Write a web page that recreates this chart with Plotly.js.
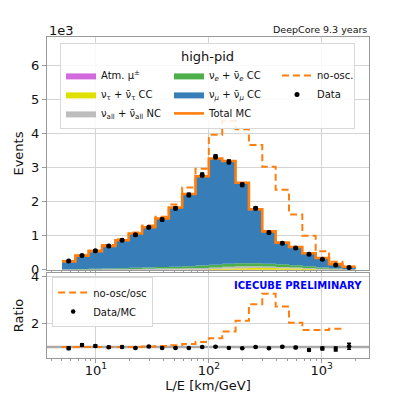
<!DOCTYPE html>
<html><head><meta charset="utf-8">
<script src="https://cdn.plot.ly/plotly-3.0.1.min.js"></script>
<style>html,body{margin:0;padding:0;background:#fff;} #chart{width:395px;height:399px;}</style>
</head><body><div id="chart"></div>
<script>
// L/E bin edges [km/GeV]
const binEdges = [5.00,6.57,8.62,11.32,14.87,19.52,25.63,33.65,44.19,58.02,76.18,100.0,131.35,172.46,226.45,297.35,390.43,512.65,673.14,883.85,1160.5,1523.9,2000];
// event counts, units of 1e3 events
const atmMu  = [0.003,0.003,0.003,0.003,0.003,0.003,0.003,0.003,0.003,0.003,0.003,0.003,0.003,0.003,0.003,0.003,0.003,0.003,0.003,0.003,0.003,0.003];
const nuTauCC = [0.001,0.001,0.001,0.002,0.002,0.003,0.003,0.004,0.005,0.007,0.010,0.020,0.035,0.045,0.050,0.050,0.045,0.035,0.020,0.010,0.005,0.002];
const nuAllNC = [0.005,0.008,0.010,0.012,0.015,0.020,0.025,0.030,0.035,0.040,0.045,0.050,0.055,0.055,0.050,0.045,0.040,0.035,0.030,0.020,0.010,0.005];
const nuECC   = [0.010,0.015,0.020,0.025,0.030,0.035,0.040,0.045,0.050,0.060,0.070,0.080,0.090,0.090,0.090,0.085,0.075,0.065,0.050,0.035,0.020,0.010];
const nuMuCC  = [0.231,0.393,0.516,0.658,0.820,1.009,1.179,1.428,1.737,2.120,2.622,3.117,3.017,2.367,1.587,0.947,0.637,0.532,0.387,0.282,0.132,0.070];
const totalMC = [0.25,0.42,0.55,0.70,0.87,1.07,1.25,1.51,1.83,2.23,2.75,3.27,3.20,2.56,1.78,1.13,0.80,0.67,0.49,0.35,0.17,0.09];
const noOsc   = [0.26,0.43,0.56,0.73,0.90,1.10,1.30,1.56,1.92,2.42,2.97,3.97,4.38,4.13,3.67,3.03,2.35,1.63,1.00,0.55,0.24,0.09];
const dataEv  = [0.26,0.42,0.56,0.70,0.87,1.03,1.25,1.48,1.81,2.20,2.79,3.32,3.17,2.50,1.81,1.10,0.78,0.64,0.46,0.31,0.14,0.07];
const dataErr = [0.016,0.020,0.024,0.026,0.030,0.032,0.035,0.038,0.043,0.047,0.053,0.058,0.056,0.050,0.043,0.033,0.028,0.025,0.021,0.018,0.012,0.008];
// ratio panel
const ratioNoOsc = [1.00,1.00,1.00,1.00,1.00,1.00,1.02,1.04,1.07,1.13,1.21,1.37,1.66,2.12,2.83,3.28,2.73,2.04,1.73,1.73,1.78];
const ratioData  = [0.95,1.085,1.04,0.99,1.00,0.96,1.02,0.96,0.96,0.96,1.00,1.01,0.96,0.95,1.00,0.95,1.01,0.98,0.875,0.94,0.91,1.03];
const ratioErr   = [0.06,0.05,0.04,0.04,0.035,0.03,0.03,0.026,0.024,0.021,0.019,0.017,0.018,0.02,0.024,0.03,0.036,0.04,0.046,0.058,0.085,0.13];
const xTickVals = [10,100,1000];
const xTickText = ['10<sup>1</sup>','10<sup>2</sup>','10<sup>3</sup>'];

const FONT = 'DejaVu Sans, sans-serif';
const stepY = v => v.concat([v[v.length-1]]);
const centers = binEdges.slice(0,-1).map((e,i)=>Math.sqrt(e*binEdges[i+1]));

function stackTrace(name, vals, color, rank){
  return {type:'scatter', mode:'lines', x:binEdges, y:stepY(vals), stackgroup:'mc',
    line:{shape:'hv', width:0, color:color}, fillcolor:color, name:name, legendrank:rank,
    xaxis:'x', yaxis:'y', hoverinfo:'skip'};
}
const traces = [
  stackTrace('Atm. μ<sup>±</sup>', atmMu, '#d26ade', 1),
  stackTrace('ν<sub>τ</sub> + ν̄<sub>τ</sub> CC', nuTauCC, '#e0e000', 4),
  stackTrace('ν<sub>all</sub> + ν̄<sub>all</sub> NC', nuAllNC, '#bdbdbd', 7),
  stackTrace('ν<sub><i>e</i></sub> + ν̄<sub><i>e</i></sub> CC', nuECC, '#4daf4a', 2),
  stackTrace('ν<sub><i>μ</i></sub> + ν̄<sub><i>μ</i></sub> CC', nuMuCC, '#377eb8', 5),
  {type:'scatter', mode:'lines', x:binEdges, y:stepY(totalMC), name:'Total MC', legendrank:8,
    line:{shape:'hv', width:2.6, color:'#ff7f0e'}, xaxis:'x', yaxis:'y'},
  {type:'scatter', mode:'lines', x:binEdges, y:stepY(noOsc), name:'no-osc.', legendrank:3, legendwidth:32,
    line:{shape:'hv', width:2, color:'#ff7f0e', dash:'7px,4px'}, xaxis:'x', yaxis:'y'},
  {type:'scatter', mode:'markers', x:centers, y:dataEv, name:'Data', legendrank:6, legendwidth:32,
    marker:{color:'#000', size:5},
    error_y:{type:'data', array:dataErr, visible:true, color:'#000', thickness:1.5, width:2},
    xaxis:'x', yaxis:'y'},
  {type:'scatter', mode:'lines', x:binEdges.slice(0,ratioNoOsc.length+1), y:stepY(ratioNoOsc), name:'no-osc/osc',
    legend:'legend2', line:{shape:'hv', width:2, color:'#ff7f0e', dash:'7px,4px'}, xaxis:'x2', yaxis:'y2'},
  {type:'scatter', mode:'markers', x:centers, y:ratioData, name:'Data/MC', legend:'legend2',
    marker:{color:'#000', size:4.5},
    error_y:{type:'data', array:ratioErr, visible:true, color:'#000', thickness:1.5, width:2},
    xaxis:'x2', yaxis:'y2'}
];

const axCommon = {showline:true, mirror:true, linecolor:'#9a9a9a', linewidth:1.2,
  gridcolor:'#d4d4d4', gridwidth:1, zeroline:false, ticks:'outside', ticklen:4, tickcolor:'#9a9a9a',
  tickfont:{family:FONT, size:13, color:'#111'}, automargin:false, ticklabeloverflow:'allow'};
const xRange = [0.5664, 3.4186];

const layout = {
  width:395, height:399, margin:{l:47, r:26, t:37, b:41},
  paper_bgcolor:'#fff', plot_bgcolor:'#fff',
  font:{family:FONT, size:10, color:'#111'},
  showlegend:true,
  xaxis: Object.assign({}, axCommon, {type:'log', range:xRange, anchor:'y', domain:[0,1],
    tickvals:xTickVals, showticklabels:false, matches:'x2',
    minor:{ticks:'outside', ticklen:2, tickcolor:'#9a9a9a', dtick:'D1', showgrid:false}}),
  yaxis: Object.assign({}, axCommon, {range:[-0.005, 6.84], domain:[0.274,1], anchor:'x', dtick:1, tick0:0,
    title:{text:'Events', font:{family:FONT, size:13, color:'#111'}, standoff:4}}),
  xaxis2: Object.assign({}, axCommon, {type:'log', range:xRange, anchor:'y2', domain:[0,1],
    tickvals:xTickVals, ticktext:xTickText, ticklabelstandoff:-4,
    minor:{ticks:'outside', ticklen:2, tickcolor:'#9a9a9a', dtick:'D1', showgrid:false},
    title:{text:'L/E [km/GeV]', font:{family:FONT, size:13, color:'#111'}, standoff:0}}),
  yaxis2: Object.assign({}, axCommon, {range:[0.528, 4.171], domain:[0,0.265], anchor:'x2',
    tickvals:[2,4],
    title:{text:'Ratio', font:{family:FONT, size:13, color:'#111'}, standoff:4}}),
  legend:{x:0.0404, y:0.9813, xanchor:'left', yanchor:'top', orientation:'h', traceorder:'normal',
    entrywidth:63, entrywidthmode:'pixels',
    bgcolor:'rgba(255,255,255,0.85)', bordercolor:'#d8d8d8', borderwidth:1,
    font:{family:FONT, size:10, color:'#111'},
    title:{text:'high-pid', side:'top center', font:{family:FONT, size:13, color:'#111'}}},
  legend2:{x:0.016, y:0.252, xanchor:'left', yanchor:'top', orientation:'v', traceorder:'normal',
    bgcolor:'rgba(255,255,255,0.85)', bordercolor:'#d8d8d8', borderwidth:1,
    font:{family:FONT, size:10, color:'#111'}},
  shapes:[{type:'line', xref:'x2 domain', x0:0, x1:1, yref:'y2', y0:1, y1:1,
    line:{color:'#aaaaaa', width:2.5}, layer:'below'}],
  annotations:[
    {text:'DeepCore 9.3 years', xref:'paper', yref:'paper', x:1, y:1.024, xanchor:'right', yanchor:'middle',
      showarrow:false, font:{family:FONT, size:9.5, color:'#111'}},
    {text:'1e3', xref:'paper', yref:'paper', x:0, y:1.019, xanchor:'left', yanchor:'middle',
      showarrow:false, font:{family:FONT, size:13, color:'#111'}},
    {text:'<b>ICECUBE PRELIMINARY</b>', xref:'paper', yref:'paper', x:0.7795, y:0.2252, xanchor:'center', yanchor:'middle',
      showarrow:false, font:{family:FONT, size:10, color:'#0000ff'}}
  ]
};
Plotly.newPlot('chart', traces, layout, {displayModeBar:false, staticPlot:true});
</script>
</body></html>
